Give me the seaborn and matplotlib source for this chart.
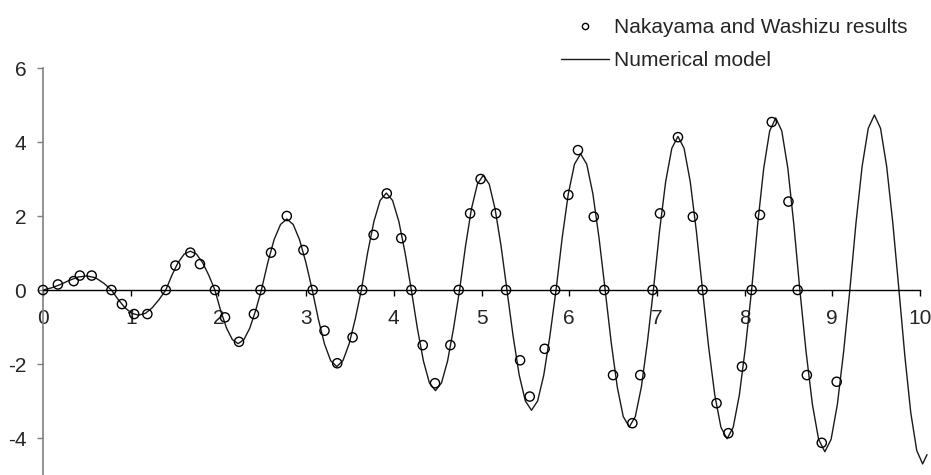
import matplotlib
matplotlib.use("Agg")
import matplotlib.pyplot as plt
from matplotlib.lines import Line2D
import seaborn as sns
import pandas as pd

# Nakayama and Washizu results (circles)
ref_x = [0.00, 0.17, 0.35, 0.42, 0.555, 0.78, 0.90, 1.04, 1.19, 1.40,
         1.51, 1.68, 1.79, 1.96, 2.075, 2.235, 2.405, 2.48, 2.60, 2.78,
         2.97, 3.075, 3.21, 3.355, 3.53, 3.64, 3.77, 3.92, 4.085, 4.20,
         4.33, 4.47, 4.645, 4.74, 4.87, 4.99, 5.165, 5.28, 5.44, 5.55,
         5.72, 5.84, 5.99, 6.10, 6.28, 6.40, 6.50, 6.72, 6.81, 6.95,
         7.035, 7.24, 7.41, 7.52, 7.68, 7.815, 7.97, 8.08, 8.175, 8.31,
         8.50, 8.605, 8.71, 8.88, 9.05]
ref_y = [0.00, 0.15, 0.24, 0.39, 0.39, 0.00, -0.38, -0.65, -0.65, 0.00,
         0.66, 1.01, 0.70, 0.00, -0.74, -1.40, -0.65, 0.00, 1.01, 2.00,
         1.08, 0.00, -1.10, -1.98, -1.28, 0.00, 1.49, 2.61, 1.40, 0.00,
         -1.49, -2.52, -1.49, 0.00, 2.07, 3.00, 2.07, 0.00, -1.90, -2.88,
         -1.59, 0.00, 2.57, 3.78, 1.98, 0.00, -2.30, -3.60, -2.30, 0.00,
         2.07, 4.13, 1.98, 0.00, -3.06, -3.87, -2.07, 0.00, 2.03, 4.54,
         2.39, 0.00, -2.30, -4.13, -2.48]

# Numerical model (line)
model_x = [0.00, 0.10, 0.20, 0.30, 0.40, 0.50, 0.60, 0.70,
           0.78, 0.858, 0.935, 1.013, 1.09, 1.168, 1.245, 1.323,
           1.40, 1.47, 1.54, 1.61, 1.68, 1.75, 1.82, 1.89,
           1.96, 2.026, 2.093, 2.159, 2.225, 2.291, 2.358, 2.424,
           2.49, 2.563, 2.635, 2.708, 2.78, 2.853, 2.925, 2.998,
           3.07, 3.14, 3.21, 3.28, 3.35, 3.42, 3.49, 3.56,
           3.63, 3.701, 3.773, 3.844, 3.915, 3.986, 4.058, 4.129,
           4.20, 4.269, 4.338, 4.406, 4.475, 4.544, 4.613, 4.681,
           4.75, 4.818, 4.885, 4.953, 5.02, 5.088, 5.155, 5.223,
           5.29, 5.36, 5.43, 5.50, 5.57, 5.64, 5.71, 5.78,
           5.85, 5.92, 5.99, 6.06, 6.13, 6.20, 6.27, 6.34,
           6.41, 6.479, 6.548, 6.616, 6.685, 6.754, 6.823, 6.891,
           6.96, 7.03, 7.10, 7.17, 7.24, 7.31, 7.38, 7.45,
           7.52, 7.59, 7.66, 7.73, 7.80, 7.87, 7.94, 8.01,
           8.08, 8.149, 8.218, 8.286, 8.355, 8.424, 8.493, 8.561,
           8.63, 8.701, 8.773, 8.844, 8.915, 8.986, 9.058, 9.129,
           9.20, 9.27, 9.34, 9.41, 9.48, 9.55, 9.62, 9.69,
           9.76, 9.828, 9.895, 9.963, 10.03, 10.08]
model_y = [0.00, 0.06, 0.15, 0.26, 0.35, 0.38, 0.33, 0.17,
           0.00, -0.26, -0.48, -0.63, -0.68, -0.63, -0.48, -0.26,
           0.00, 0.40, 0.74, 0.97, 1.05, 0.97, 0.74, 0.40,
           0.00, -0.56, -1.03, -1.34, -1.45, -1.34, -1.03, -0.56,
           0.00, 0.74, 1.36, 1.77, 1.92, 1.77, 1.36, 0.74,
           0.00, -0.79, -1.46, -1.91, -2.07, -1.91, -1.46, -0.79,
           0.00, 1.00, 1.85, 2.42, 2.62, 2.42, 1.85, 1.00,
           0.00, -1.04, -1.92, -2.51, -2.72, -2.51, -1.92, -1.04,
           0.00, 1.19, 2.19, 2.86, 3.10, 2.86, 2.19, 1.19,
           0.00, -1.24, -2.30, -3.00, -3.25, -3.00, -2.30, -1.24,
           0.00, 1.41, 2.60, 3.40, 3.68, 3.40, 2.60, 1.41,
           0.00, -1.42, -2.62, -3.42, -3.70, -3.42, -2.62, -1.42,
           0.00, 1.59, 2.93, 3.83, 4.15, 3.83, 2.93, 1.59,
           0.00, -1.54, -2.84, -3.71, -4.02, -3.71, -2.84, -1.54,
           0.00, 1.78, 3.29, 4.30, 4.65, 4.30, 3.29, 1.78,
           0.00, -1.67, -3.09, -4.04, -4.37, -4.04, -3.09, -1.67,
           0.00, 1.81, 3.34, 4.37, 4.73, 4.37, 3.34, 1.81,
           0.00, -1.80, -3.32, -4.34, -4.70, -4.45]

x_ticks = [0, 1, 2, 3, 4, 5, 6, 7, 8, 9, 10]
y_ticks = [-4, -2, 0, 2, 4, 6]

ref = pd.DataFrame({"x": ref_x, "y": ref_y})
model = pd.DataFrame({"x": model_x, "y": model_y})

sns.set_theme(style="white")
plt.rcParams["font.family"] = ["Liberation Sans", "DejaVu Sans"]
plt.rcParams["axes.unicode_minus"] = False

fig = plt.figure(figsize=(9.31, 4.75), dpi=100)
ax = fig.add_axes([43 / 931, 0.0, 877 / 931, 407 / 475])

sns.lineplot(data=model, x="x", y="y", ax=ax, estimator=None, sort=False,
             color="#1a1a1a", linewidth=1.0, clip_on=False)
sns.scatterplot(data=ref, x="x", y="y", ax=ax, marker="o", s=44,
                facecolor="none", edgecolor="black", linewidth=1.0,
                zorder=3, clip_on=False)

ax.set_xlim(0, 10)
ax.set_ylim(-5, 6)
ax.set_xticks(x_ticks)
ax.set_yticks(y_ticks)
ax.set_xlabel("")
ax.set_ylabel("")

for s in ["top", "right"]:
    ax.spines[s].set_visible(False)
ax.spines["bottom"].set_position(("data", 0))
ax.spines["bottom"].set_color("black")
ax.spines["bottom"].set_linewidth(1.0)
ax.spines["left"].set_color("#808080")
ax.spines["left"].set_linewidth(1.2)

ax.tick_params(axis="x", direction="out", length=4, width=1.0, color="black",
               labelsize=15, pad=10, bottom=True)
ax.tick_params(axis="y", direction="out", length=4, width=1.0, color="#808080",
               labelsize=15, pad=8, left=True)

handles = [
    Line2D([], [], linestyle="none", marker="o", markersize=4.5,
           markerfacecolor="none", markeredgecolor="black", markeredgewidth=1.0),
    Line2D([], [], color="#1a1a1a", linewidth=1.0),
]
labels = ["Nakayama and Washizu results", "Numerical model"]
fig.legend(handles, labels, loc="upper left",
           bbox_to_anchor=(551 / 931, 1 - 8 / 475), frameon=False,
           fontsize=15, borderpad=0, handlelength=2.26, handletextpad=0.24,
           labelspacing=0.65)

fig.savefig("out.png", dpi=100)
